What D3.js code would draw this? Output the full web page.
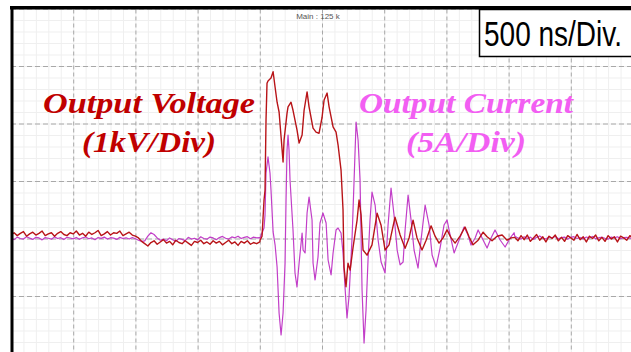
<!DOCTYPE html>
<html><head><meta charset="utf-8">
<script src="https://cdn.jsdelivr.net/npm/d3@7/dist/d3.min.js"></script>
<style>html,body{margin:0;padding:0;background:#fff;overflow:hidden}</style>
</head><body>
<svg id="c" width="631" height="352"></svg>
<script>
// ---- Data ----
const timeTicksNs = [0,500,1000,1500,2000,2500,3000,3500,4000,4500,5000]; // 500 ns/Div
const voltTicksKV = [-4,-3,-2,-1,0,1,2,3,4];                             // 1 kV/Div
const currentDomainA = [-20, 20];                                          // 5 A/Div
const sampleStepNs = 25;
const tailStartNs = 4050;

// baseline noise before the pulse (kV), sampled every 25 ns from 0 ns
const voltageBaselineA = [0.06,0.10,0.05,0.09,0.12,0.04,0.08,0.11,0.06,0.09,0.13,0.05,0.08,0.10,0.04,0.09,0.12,0.07,0.05,0.10,0.08,0.13,0.06,0.09,0.04,0.11,0.07,0.10,0.14,0.05,0.08,0.12,0.06,0.10,0.09,0.13,0.05,0.08,0.11,0.06,0.04,0.01,
 -0.05,-0.09,-0.13,-0.07,-0.04,-0.10,-0.06,-0.02,-0.08,-0.05,-0.11,-0.03,-0.07,-0.09,-0.04,-0.08,-0.12,-0.05,-0.07,-0.03,-0.09,-0.06,-0.10,-0.04,-0.08,-0.05,-0.11,-0.07,-0.03,-0.09,-0.06,-0.12,-0.05,-0.08,-0.04,-0.10,-0.07,-0.09,-0.06];
// pulse (ns, kV)
const voltageTransient = [[2002,-0.03],[2018,0.04],[2034,0.67],[2042,0.84],[2050,2.06],[2058,2.70],[2066,2.74],[2090,2.79],[2107,2.90],[2123,2.63],[2139,2.37],[2155,2.20],[2171,1.77],[2187,1.33],[2195,1.71],[2219,2.18],[2227,2.29],[2251,2.37],[2267,2.23],[2299,1.89],[2316,1.66],[2340,1.80],[2356,2.23],[2380,2.55],[2396,2.29],[2428,1.92],[2452,1.85],[2476,1.83],[2500,2.10],[2517,2.41],[2541,2.53],[2557,2.29],[2589,1.94],[2613,1.85],[2629,1.63],[2653,1.19],[2669,0.50],[2677,-0.50],[2693,-0.84],[2709,-0.43],[2726,-0.55],[2750,-0.15],[2782,0.32],[2798,0.67],[2814,0.41],[2830,-0.20],[2862,-0.29],[2902,-0.11],[2943,0.44],[2975,0.23],[3007,-0.20],[3039,-0.11],[3087,0.37],[3128,0.06],[3168,-0.17],[3200,0.01],[3232,0.32],[3264,0.01],[3304,-0.20],[3337,-0.03],[3377,0.22],[3409,0.04],[3441,-0.08],[3473,0.01],[3505,0.15],[3538,0.01],[3570,-0.08],[3610,0.04],[3650,0.20],[3682,0.03],[3714,-0.11],[3755,-0.03],[3795,0.11],[3827,0.03],[3867,-0.04],[3907,0.04],[3948,0.06],[3988,-0.03],[4020,0.01]];
// tail noise (kV), every 25 ns from 4050 ns
const voltageBaselineB = [0.02,-0.04,0.05,-0.02,0.06,-0.05,0.01,0.07,-0.03,0.03,-0.06,0.04,0.00,0.06,-0.04,0.02,-0.05,0.05,0.01,-0.03,0.07,-0.02,0.03,-0.06,0.04,0.00,0.06,-0.04,0.02,-0.05,0.05,-0.01,0.03,-0.06,0.04,0.01,-0.03,0.05,0.00];

// current (A)
const currentBaselineA = [0.05,-0.10,0.12,0.00,-0.05,0.15,0.03,-0.08,0.10,0.05,-0.12,0.08,0.02,-0.06,0.14,0.00,0.07,-0.09,0.11,0.04,-0.03,0.09,-0.07,0.06,0.13,-0.02,0.05,-0.10,0.08,0.01,0.12,-0.05,0.07,0.03,-0.08,0.10,0.00,0.06,-0.04,0.09,-0.02,-0.15,
 -0.25,-0.20,0.20,0.50,0.35,0.05,-0.15,-0.05,-0.20,0.05,-0.10,-0.25,0.00,-0.08,-0.18,0.10,-0.05,0.02,-0.12,0.15,0.00,-0.06,0.12,0.05,-0.10,0.08,0.18,0.02,-0.05,0.14,0.06,0.20,0.00,0.10,0.16,-0.02,0.12,0.05,0.08];
const currentTransient = [[2002,0.04],[2018,0.48],[2034,0.91],[2042,2.04],[2050,5.70],[2058,6.39],[2066,7.09],[2074,6.39],[2082,5.70],[2090,4.22],[2107,0.57],[2123,-0.57],[2139,-2.48],[2155,-6.48],[2171,-8.39],[2187,-6.48],[2203,-2.13],[2211,3.35],[2219,7.70],[2227,9.00],[2235,7.70],[2243,5.09],[2267,0.74],[2283,-3.00],[2299,-4.22],[2316,-2.13],[2340,0.48],[2348,-1.00],[2364,-1.26],[2380,2.22],[2396,3.61],[2420,1.61],[2428,-2.13],[2444,-3.61],[2468,-1.61],[2484,1.35],[2508,2.22],[2533,1.35],[2549,-1.87],[2573,-3.17],[2589,-1.26],[2613,0.74],[2629,0.91],[2653,0.48],[2669,-1.26],[2685,-4.22],[2701,-6.91],[2717,-5.09],[2742,0.13],[2758,5.09],[2774,10.13],[2790,8.57],[2806,5.09],[2822,-4.48],[2838,-9.09],[2854,-6.22],[2870,-1.87],[2886,1.61],[2902,4.04],[2927,2.91],[2951,-0.13],[2975,-2.04],[3007,-3.00],[3031,1.17],[3055,4.39],[3079,2.04],[3104,-1.00],[3128,-2.30],[3152,-2.04],[3168,0.74],[3192,3.78],[3216,1.61],[3240,-1.00],[3272,-2.57],[3296,-0.13],[3329,2.91],[3361,1.17],[3385,-1.43],[3417,-2.48],[3449,-0.83],[3481,1.17],[3505,1.61],[3530,0.30],[3562,-1.26],[3602,-0.13],[3642,1.00],[3674,0.30],[3698,-0.57],[3731,0.04],[3755,0.74],[3795,-0.13],[3827,-0.83],[3859,0.04],[3891,0.74],[3932,-0.13],[3972,-0.74],[4012,0.04],[4044,0.50]];
const currentBaselineB = [0.20,0.05,-0.05,0.15,0.00,0.12,-0.08,0.10,0.22,0.02,-0.04,0.14,0.06,0.18,-0.02,0.08,0.12,-0.06,0.10,0.16,0.00,0.09,-0.05,0.13,0.04,0.18,-0.03,0.07,0.11,0.02,-0.06,0.12,0.05,0.15,-0.02,0.08,0.10,0.03,0.06];

const labelVoltage = ["Output Voltage", "(1kV/Div)"];
const labelCurrent = ["Output Current", "(5A/Div)"];
const timebaseLabel = "500 ns/Div.";
const headerLabel = "Main : 125 k";

(function(){
// ---- Build series ----
function buildSeries(baseA, transient, baseB){
  const first = transient[0][0], last = transient[transient.length-1][0];
  const a = baseA.map((v,i)=>[i*sampleStepNs, v]).filter(d=>d[0] < first);
  const b = baseB.map((v,i)=>[tailStartNs + i*sampleStepNs, v]).filter(d=>d[0] > last);
  return a.concat(transient, b);
}
const voltageSeries = buildSeries(voltageBaselineA, voltageTransient, voltageBaselineB);
const currentSeries = buildSeries(currentBaselineA, currentTransient, currentBaselineB);

// ---- Layout ----
const svg = d3.select('#c');
const pL = 11, pR = 633, pT = 8.5, divH = 57.5;
const pB = pT + 8*divH;
const x = d3.scaleLinear().domain([0,5000]).range([pL,pR]);
const yV = d3.scaleLinear().domain([-4,4]).range([pB, pT]);
const yI = d3.scaleLinear().domain(currentDomainA).range([pB, pT]);

svg.append('defs').append('clipPath').attr('id','clip')
  .append('rect').attr('x',pL).attr('y',pT).attr('width',pR-pL).attr('height',352-pT);

const grid = svg.append('g').attr('clip-path','url(#clip)');
// minor grid
const minorT = d3.range(0,5001,100), minorV = d3.range(-4,4.01,0.2);
grid.append('g').attr('transform',`translate(0,${pB})`)
  .call(d3.axisBottom(x).tickValues(minorT).tickSize(-(pB-pT)).tickFormat(''))
  .call(g=>{g.select('.domain').remove(); g.selectAll('line').attr('stroke','#efefef').attr('stroke-width',1);});
grid.append('g').attr('transform',`translate(${pL},0)`)
  .call(d3.axisLeft(yV).tickValues(minorV).tickSize(-(pR-pL)).tickFormat(''))
  .call(g=>{g.select('.domain').remove(); g.selectAll('line').attr('stroke','#efefef').attr('stroke-width',1);});
// major grid
grid.append('g').attr('transform',`translate(0,${pB})`)
  .call(d3.axisBottom(x).tickValues(timeTicksNs).tickSize(-(pB-pT)).tickFormat(''))
  .call(g=>{g.select('.domain').remove(); g.selectAll('line').attr('stroke','#a8a8a8').attr('stroke-width',1).attr('stroke-dasharray','4,3');});
grid.append('g').attr('transform',`translate(${pL},0)`)
  .call(d3.axisLeft(yV).tickValues(voltTicksKV).tickSize(-(pR-pL)).tickFormat(''))
  .call(g=>{g.select('.domain').remove(); g.selectAll('line').attr('stroke','#a8a8a8').attr('stroke-width',1).attr('stroke-dasharray','5,3');});

// header text
svg.append('text').attr('x',318).attr('y',19).attr('text-anchor','middle')
  .attr('font-family','Liberation Sans, Arial, sans-serif').attr('font-size',8).attr('fill','#555')
  .text(headerLabel);

// labels
const serif = 'Liberation Serif, Times New Roman, serif';
function label(lines, cx, color, w1, w2){
  svg.append('text').attr('x',cx).attr('y',113).attr('text-anchor','middle')
    .attr('font-family',serif).attr('font-style','italic').attr('font-weight','bold')
    .attr('font-size',30).attr('fill',color).attr('textLength',w1).attr('lengthAdjust','spacingAndGlyphs').text(lines[0]);
  svg.append('text').attr('x',cx).attr('y',152).attr('text-anchor','middle')
    .attr('font-family',serif).attr('font-style','italic').attr('font-weight','bold')
    .attr('font-size',30).attr('fill',color).attr('textLength',w2).attr('lengthAdjust','spacingAndGlyphs').text(lines[1]);
}
label(labelVoltage, 149, '#c00000', 212, 134);
label(labelCurrent, 466, '#f25ef2', 214, 120);

// traces
const plot = svg.append('g').attr('clip-path','url(#clip)');
plot.append('path').datum(currentSeries)
  .attr('d', d3.line().x(d=>x(d[0])).y(d=>yI(d[1])))
  .attr('fill','none').attr('stroke','#c23ec8').attr('stroke-width',1.2).attr('stroke-linejoin','round');
plot.append('path').datum(voltageSeries)
  .attr('d', d3.line().x(d=>x(d[0])).y(d=>yV(d[1])))
  .attr('fill','none').attr('stroke','#b81418').attr('stroke-width',1.4).attr('stroke-linejoin','round');

// frame
svg.append('rect').attr('x',10).attr('y',6).attr('width',625).attr('height',3.5).attr('fill','#000');
svg.append('rect').attr('x',10.5).attr('y',6).attr('width',3).attr('height',350).attr('fill','#000');

// timebase box
svg.append('rect').attr('x',479.5).attr('y',9.5).attr('width',160).attr('height',47)
  .attr('fill','#fff').attr('stroke','#000').attr('stroke-width',1.5);
svg.append('text').attr('transform','translate(484,45.5) scale(1,1.22)')
  .attr('font-family','Liberation Sans, Arial, sans-serif').attr('font-size',28)
  .attr('fill','#000')
  .text(timebaseLabel);
})();
</script>
</body></html>
